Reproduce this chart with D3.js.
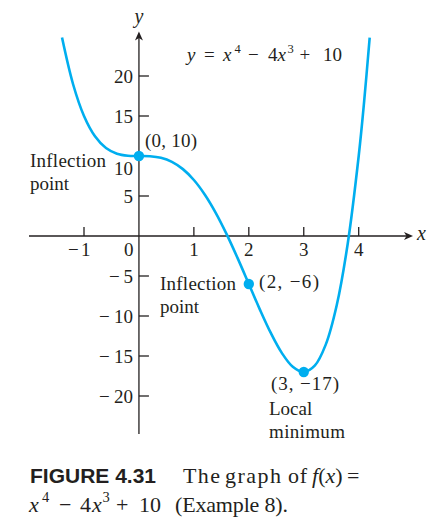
<!DOCTYPE html>
<html>
<head>
<meta charset="utf-8">
<script src="https://cdn.jsdelivr.net/npm/d3@7"></script>
<style>
  body { margin: 0; background: #fff; }
  svg text { fill: #231f20; font-family: "Liberation Serif", "DejaVu Serif", serif; }
</style>
</head>
<body>
<svg id="chart" width="442" height="532"></svg>
<script>
var curveX = [-1.4, -1.2, -1.0, -0.8, -0.6, -0.4, -0.2, 0, 0.2, 0.4, 0.6, 0.8, 1.0, 1.2, 1.4,
              1.6, 1.8, 2.0, 2.2, 2.4, 2.6, 2.8, 3.0, 3.2, 3.4, 3.6, 3.8, 4.0, 4.1, 4.2]
var curveY = [24.8, 19.0, 15.0, 12.46, 10.99, 10.28, 10.03, 10, 9.97, 9.77, 9.27, 8.36, 7.0, 5.16, 2.87,
              0.17, -2.83, -6.0, -9.17, -12.12, -14.61, -16.34, -17.0, -16.21, -13.58, -8.66, -0.97, 10.0, 16.89, 24.8]

// the marked points
var markX = [0, 2, 3]
var markY = [10, -6, -17]

// tick labels
var xTicks = [-1, 0, 1, 2, 3, 4]
var yTicks = [-20, -15, -10, -5, 5, 10, 15, 20]

var svg = d3.select('#chart')
var ink = '#231f20'
var blue = '#00aeef'

var x = d3.scaleLinear().domain([-1, 4]).range([84, 358.7])
var y = d3.scaleLinear().domain([-20, 20]).range([396, 76])

// small helper for a piece of text; w stretches it to a measured width
function txt(tx, ty, s, size, w) {
  var t = svg.append('text').attr('x', tx).attr('y', ty).attr('font-size', size).text(s)
  if (w) t.attr('textLength', w).attr('lengthAdjust', 'spacing')
  return t
}

// axes lines
svg.append('line').attr('x1', 29).attr('x2', 410).attr('y1', y(0)).attr('y2', y(0))
   .attr('stroke', ink).attr('stroke-width', 1.3)
svg.append('line').attr('x1', x(0)).attr('x2', x(0)).attr('y1', 434).attr('y2', 35)
   .attr('stroke', ink).attr('stroke-width', 1.3)

// arrowheads
function arrow(tx, ty, angle) {
  svg.append('path')
     .attr('d', 'M0,0 L-9,-4 L-6.5,0 L-9,4 Z')
     .attr('transform', 'translate(' + tx + ',' + ty + ') rotate(' + angle + ')')
     .attr('fill', ink)
}
arrow(413, y(0), 0)
arrow(x(0), 31.5, -90)

// x ticks (go up from the axis)
svg.selectAll('.xt').data(xTicks.filter(function(d) { return d != 0 }))
   .enter().append('line')
   .attr('x1', function(d) { return x(d) }).attr('x2', function(d) { return x(d) })
   .attr('y1', y(0)).attr('y2', y(0) - 9)
   .attr('stroke', ink).attr('stroke-width', 1.3)

// y ticks (go right from the axis)
svg.selectAll('.yt').data(yTicks)
   .enter().append('line')
   .attr('x1', x(0)).attr('x2', x(0) + 10)
   .attr('y1', function(d) { return y(d) }).attr('y2', function(d) { return y(d) })
   .attr('stroke', ink).attr('stroke-width', 1.3)

// x tick labels (minus sign drawn apart, the book spaces it out)
svg.selectAll('.xl').data(xTicks)
   .enter().append('text')
   .attr('x', function(d) { return d == 0 ? x(0) - 5.5 : (d < 0 ? x(d) + 6.5 : x(d)) })
   .attr('y', 256)
   .attr('text-anchor', function(d) { return d <= 0 ? 'end' : 'middle' })
   .attr('font-size', 19)
   .text(function(d) { return Math.abs(d) })
txt(x(-1) - 16, 256, '\u2212', 19)

// y tick labels, the 10 is pushed down out of the curve's way
svg.selectAll('.yl').data(yTicks)
   .enter().append('text')
   .attr('x', 133)
   .attr('y', function(d) { return d == 10 ? y(d) + 19 : y(d) + 6.5 })
   .attr('text-anchor', 'end')
   .attr('font-size', 19)
   .text(function(d) { return Math.abs(d) })
svg.selectAll('.ym').data(yTicks.filter(function(d) { return d < 0 }))
   .enter().append('text')
   .attr('x', function(d) { return d < -5 ? 99 : 109 })
   .attr('y', function(d) { return y(d) + 6.5 })
   .attr('font-size', 19)
   .text('\u2212')

// axis names
svg.append('text').attr('x', x(0)).attr('y', 23).attr('text-anchor', 'middle')
   .attr('font-size', 20).attr('font-style', 'italic').text('y')
svg.append('text').attr('x', 417).attr('y', 240)
   .attr('font-size', 20).attr('font-style', 'italic').text('x')

// the curve
var pts = curveX.map(function(d, i) { return [d, curveY[i]] })
var line = d3.line().x(function(d) { return x(d[0]) }).y(function(d) { return y(d[1]) })
   .curve(d3.curveCatmullRom)
svg.append('path').datum(pts).attr('d', line)
   .attr('fill', 'none').attr('stroke', blue).attr('stroke-width', 2.6)

svg.selectAll('.dot').data(markX)
   .enter().append('circle')
   .attr('cx', function(d) { return x(d) })
   .attr('cy', function(d, i) { return y(markY[i]) })
   .attr('r', 5.2).attr('fill', blue)

// equation  y = x^4 - 4x^3 + 10, math spacing laid out piece by piece
txt(187, 61, 'y', 19).attr('font-style', 'italic')
txt(204, 61, '=', 19)
txt(223, 61, 'x', 19).attr('font-style', 'italic')
txt(234.5, 53, '4', 12.5)
txt(248, 61, '\u2212', 19)
txt(268, 61, '4', 19)
txt(277.5, 61, 'x', 19).attr('font-style', 'italic')
txt(287.5, 53, '3', 12.5)
txt(299.5, 61, '+', 19)
txt(323, 61, '10', 19)

// annotations
txt(145, 147, '(0, 10)', 19, 52)
txt(30, 167, 'Inflection', 19, 76)
txt(30, 190, 'point', 19)
txt(259, 288, '(2, \u22126)', 19, 60)
txt(160, 290, 'Inflection', 19, 76)
txt(160, 313, 'point', 19)
txt(271, 390, '(3, \u221217)', 19, 68)
txt(269, 415, 'Local', 19)
txt(269, 438, 'minimum', 19, 76)

// caption
txt(30, 483, 'FIGURE 4.31', 21, 126)
  .style('font-family', '"Liberation Sans", Arial, sans-serif').style('font-weight', 'bold')
txt(183, 483, 'The', 22, 37)
txt(225, 483, 'graph', 22, 56)
txt(288, 483, 'of', 22, 19)
var fx = txt(312, 483, '', 22)
fx.append('tspan').attr('font-style', 'italic').text('f')
fx.append('tspan').text('(')
fx.append('tspan').attr('font-style', 'italic').text('x')
fx.append('tspan').text(')')
txt(347, 483, '=', 22)

txt(29, 512, 'x', 22).attr('font-style', 'italic')
txt(42, 502, '4', 14.5)
txt(59, 512, '\u2212', 22)
txt(80, 512, '4', 22)
txt(92, 512, 'x', 22).attr('font-style', 'italic')
txt(102.5, 502, '3', 14.5)
txt(116, 512, '+', 22)
txt(139, 512, '10', 22)
txt(175, 512, '(Example 8).', 22, 113)
</script>
</body>
</html>
